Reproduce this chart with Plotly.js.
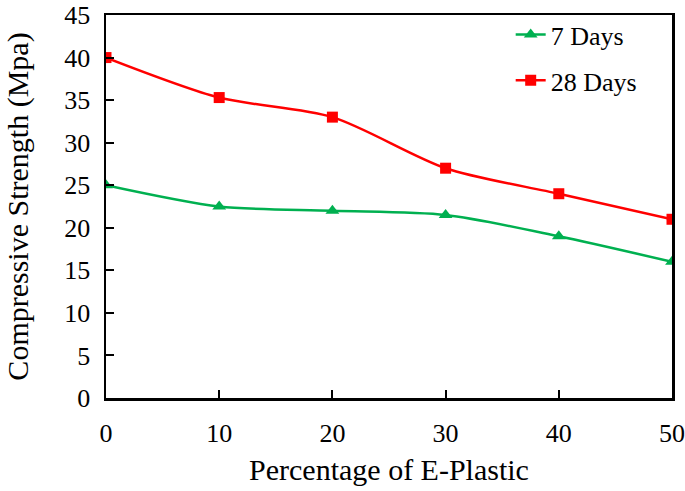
<!DOCTYPE html>
<html>
<head>
<meta charset="utf-8">
<script src="https://cdn.plot.ly/plotly-3.0.1.min.js"></script>
<style>html,body{margin:0;padding:0;background:#fff;}#chart{width:685px;height:491px;}</style>
</head>
<body>
<div id="chart"></div>
<script>
const percentages = [0, 10, 20, 30, 40, 50];
const days7 = [25, 22.5, 22, 21.5, 19, 16];
const days28 = [40, 35.3, 33, 27, 24, 21];
const xTicks = [0, 10, 20, 30, 40, 50];
const yTicks = [0, 5, 10, 15, 20, 25, 30, 35, 40, 45];

const font = "Liberation Serif";

const traces = [
  {
    x: percentages, y: days7, name: "7 Days", type: "scatter", mode: "lines+markers",
    legendgroup: "a",
    line: {color: "#00B050", width: 2.5, shape: "spline", smoothing: 0.8},
    marker: {symbol: "triangle-up", size: 12, color: "#00B050"}
  },
  {
    x: percentages, y: days28, name: "28 Days", type: "scatter", mode: "lines+markers",
    legendgroup: "b",
    line: {color: "#FF0000", width: 2.5, shape: "spline", smoothing: 0.8},
    marker: {symbol: "square", size: 11, color: "#FF0000"}
  }
];

const layout = {
  width: 685, height: 491,
  margin: {l: 106, r: 13, t: 15, b: 93, autoexpand: false},
  paper_bgcolor: "#fff", plot_bgcolor: "#fff",
  font: {family: font, size: 26, color: "#000"},
  showlegend: true,
  legend: {
    x: 0.715, y: 1.01, xanchor: "left", yanchor: "top",
    bgcolor: "rgba(0,0,0,0)", borderwidth: 0,
    font: {family: font, size: 26, color: "#000"},
    traceorder: "grouped", tracegroupgap: 9
  },
  xaxis: {
    range: [0, 50], tickvals: xTicks, ticktext: xTicks.map(String),
    ticks: "inside", ticklen: 8, tickwidth: 2, tickcolor: "#000",
    showline: true, linecolor: "#000", linewidth: 2.5, mirror: true,
    showgrid: false, zeroline: false, automargin: false,
    tickfont: {family: font, size: 26},
    ticklabelstandoff: 10, ticklabeloverflow: "allow",
    title: {text: "Percentage of E-Plastic", font: {family: font, size: 30}, standoff: 13}
  },
  yaxis: {
    range: [0, 45], tickvals: yTicks, ticktext: yTicks.map(String),
    ticks: "inside", ticklen: 8, tickwidth: 2, tickcolor: "#000",
    showline: true, linecolor: "#000", linewidth: 2.5, mirror: true,
    showgrid: false, zeroline: false, automargin: false,
    tickfont: {family: font, size: 26},
    ticklabelstandoff: 8, ticklabeloverflow: "allow",
    title: {text: "Compressive Strength (Mpa)", font: {family: font, size: 30}, standoff: 27}
  }
};

Plotly.newPlot("chart", traces, layout, {displayModeBar: false, staticPlot: true});
</script>
</body>
</html>
